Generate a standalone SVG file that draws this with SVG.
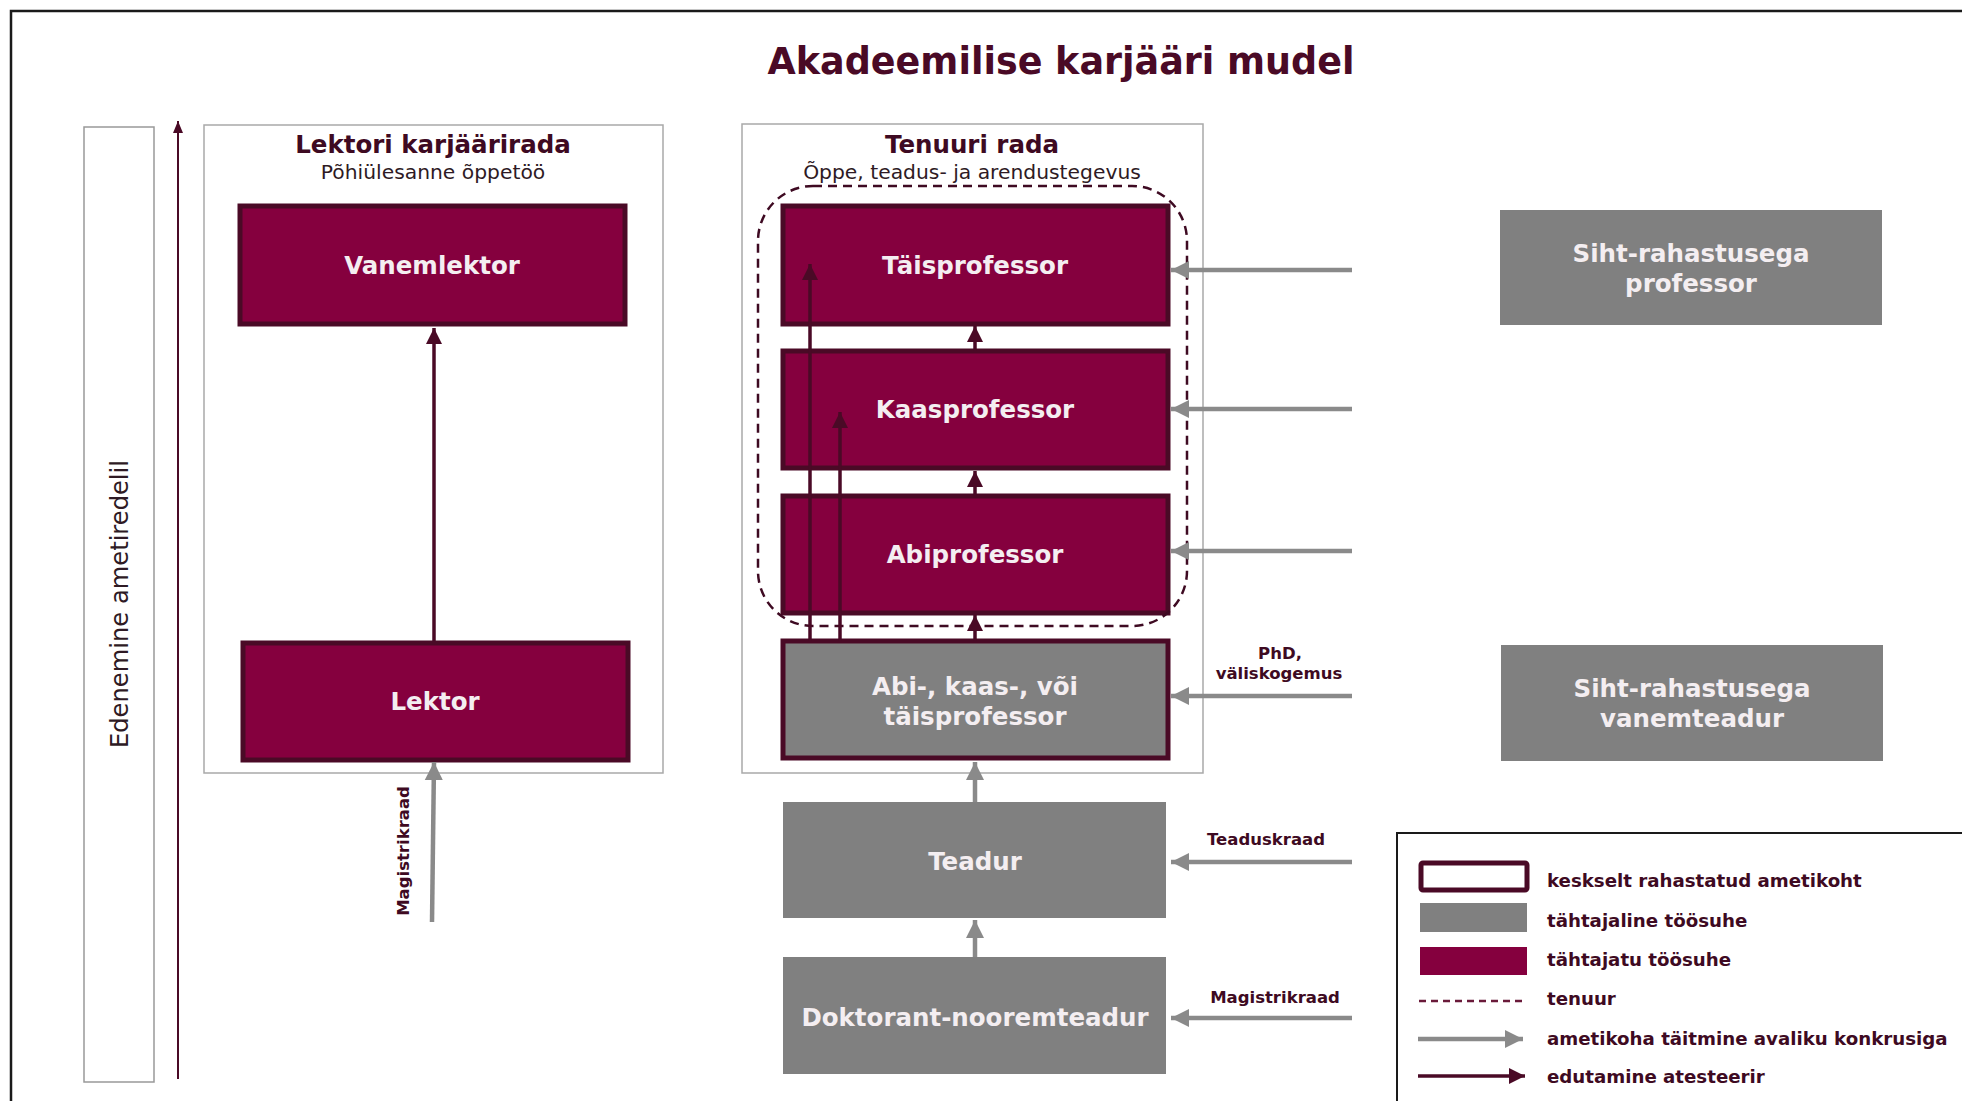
<svg xmlns="http://www.w3.org/2000/svg" width="1962" height="1101" viewBox="0 0 1962 1101">
<defs>
<style>
.t{font-family:"DejaVu Sans","Liberation Sans",sans-serif}
.nb{font-weight:bold;font-size:24.5px;fill:#f4eef1;text-anchor:middle}
.lab{font-weight:bold;font-size:16.5px;fill:#3e0a22;text-anchor:middle}
.hd{font-weight:bold;font-size:24.5px;fill:#3e0a22;text-anchor:middle}
.sub{font-size:20.3px;fill:#2e1a24;text-anchor:middle}
.lg{font-weight:bold;font-size:18.2px;fill:#3e0a22}
.mar{fill:#85003e;stroke:#4a0a26;stroke-width:5}
.gry{fill:#808080}
.grb{fill:#808080;stroke:#4a0a26;stroke-width:5}
.pane{fill:#fff;stroke:#a9a9a9;stroke-width:1.5}
.am{stroke:#4a0a26;stroke-width:3.5;fill:none}
.ag{stroke:#8a8a8a;stroke-width:4.5;fill:none}
</style>
<marker id="hm" markerUnits="userSpaceOnUse" markerWidth="20" markerHeight="20" viewBox="0 0 20 20" refX="18" refY="10" orient="auto">
<path d="M2,2 L18,10 L2,18 Z" fill="#4a0a26"/>
</marker>
<marker id="hm2" markerUnits="userSpaceOnUse" markerWidth="14" markerHeight="14" viewBox="0 0 14 14" refX="13" refY="7" orient="auto">
<path d="M1,2 L13,7 L1,12 Z" fill="#4a0a26"/>
</marker>
<marker id="hg" markerUnits="userSpaceOnUse" markerWidth="22" markerHeight="22" viewBox="0 0 22 22" refX="20" refY="11" orient="auto">
<path d="M2,2 L20,11 L2,20 Z" fill="#8a8a8a"/>
</marker>
</defs>
<rect width="1962" height="1101" fill="#fff"/>
<rect x="11" y="11" width="1990" height="1120" fill="none" stroke="#1a1a1a" stroke-width="2.5"/>
<text class="t" x="1061" y="74" text-anchor="middle" font-weight="bold" font-size="36.5" fill="#4a0a26">Akadeemilise karjääri mudel</text>

<g id="ladder">
<rect x="84" y="127" width="70" height="955" fill="#fff" stroke="#999" stroke-width="1.5"/>
<text class="t" transform="translate(128,604) rotate(-90)" text-anchor="middle" font-size="24.2" fill="#2e1a24">Edenemine ametiredelil</text>
</g>

<g id="lektori-rada">
<rect class="pane" x="204" y="125" width="459" height="648"/>
<text class="t hd" x="433" y="153">Lektori karjäärirada</text>
<text class="t sub" x="433" y="179">Põhiülesanne õppetöö</text>
</g>

<g id="tenuuri-rada">
<rect class="pane" x="742" y="124" width="461" height="649"/>
<text class="t hd" x="972" y="153">Tenuuri rada</text>
<text class="t sub" x="972" y="179">Õppe, teadus- ja arendustegevus</text>
</g>

<g id="vanemlektor"><rect class="mar" x="240" y="206" width="385" height="118"/><text class="t nb" x="432" y="274">Vanemlektor</text></g>
<g id="lektor"><rect class="mar" x="243" y="643" width="385" height="117"/><text class="t nb" x="435" y="710">Lektor</text></g>
<g id="taisprofessor"><rect class="mar" x="783" y="206" width="385" height="118"/><text class="t nb" x="975" y="274">Täisprofessor</text></g>
<g id="kaasprofessor"><rect class="mar" x="783" y="351" width="385" height="117"/><text class="t nb" x="975" y="418">Kaasprofessor</text></g>
<g id="abiprofessor"><rect class="mar" x="783" y="496" width="385" height="117"/><text class="t nb" x="975" y="563">Abiprofessor</text></g>
<g id="abi-kaas-tais"><rect class="grb" x="783" y="641" width="385" height="117"/><text class="t nb" x="975" y="695">Abi-, kaas-, või</text><text class="t nb" x="975" y="725">täisprofessor</text></g>
<g id="teadur"><rect class="gry" x="783" y="802" width="383" height="116"/><text class="t nb" x="975" y="870">Teadur</text></g>
<g id="doktorant"><rect class="gry" x="783" y="957" width="383" height="117"/><text class="t nb" x="975" y="1026">Doktorant-nooremteadur</text></g>
<g id="siht-professor"><rect class="gry" x="1500" y="210" width="382" height="115"/><text class="t nb" x="1691" y="262">Siht-rahastusega</text><text class="t nb" x="1691" y="292">professor</text></g>
<g id="siht-vanemteadur"><rect class="gry" x="1501" y="645" width="382" height="116"/><text class="t nb" x="1692" y="697">Siht-rahastusega</text><text class="t nb" x="1692" y="727">vanemteadur</text></g>

<g id="tenuur">
<rect x="758" y="186" width="429" height="440" rx="55" ry="55" fill="none" stroke="#3e0a22" stroke-width="2.5" stroke-dasharray="9,6"/>
</g>

<g id="connectors">
<line x1="178" y1="1079" x2="178" y2="121" stroke="#4a0a26" stroke-width="2" marker-end="url(#hm2)"/>
<line class="am" x1="434" y1="641" x2="434" y2="328" marker-end="url(#hm)"/>
<line class="ag" x1="432" y1="922" x2="434" y2="762" marker-end="url(#hg)"/>
<line class="am" x1="975" y1="351" x2="975" y2="326" marker-end="url(#hm)"/>
<line class="am" x1="975" y1="496" x2="975" y2="471" marker-end="url(#hm)"/>
<line class="am" x1="975" y1="641" x2="975" y2="615" marker-end="url(#hm)"/>
<line class="am" x1="810" y1="641" x2="810" y2="264" marker-end="url(#hm)"/>
<line class="am" x1="840" y1="641" x2="840" y2="412" marker-end="url(#hm)"/>
<line class="ag" x1="975" y1="802" x2="975" y2="762" marker-end="url(#hg)"/>
<line class="ag" x1="975" y1="957" x2="975" y2="920" marker-end="url(#hg)"/>
<line class="ag" x1="1352" y1="270" x2="1171" y2="270" marker-end="url(#hg)"/>
<line class="ag" x1="1352" y1="409" x2="1171" y2="409" marker-end="url(#hg)"/>
<line class="ag" x1="1352" y1="551" x2="1171" y2="551" marker-end="url(#hg)"/>
<line class="ag" x1="1352" y1="696" x2="1171" y2="696" marker-end="url(#hg)"/>
<line class="ag" x1="1352" y1="862" x2="1171" y2="862" marker-end="url(#hg)"/>
<line class="ag" x1="1352" y1="1018" x2="1171" y2="1018" marker-end="url(#hg)"/>
<text class="t lab" transform="translate(409,851) rotate(-90)">Magistrikraad</text>
<text class="t lab" x="1280" y="659">PhD,</text>
<text class="t lab" x="1279" y="679">väliskogemus</text>
<text class="t lab" x="1266" y="845">Teaduskraad</text>
<text class="t lab" x="1275" y="1003">Magistrikraad</text>
</g>

<g id="legend">
<rect x="1397" y="833" width="600" height="300" fill="#fff" stroke="#1a1a1a" stroke-width="2"/>
<rect x="1421" y="863" width="106" height="27" rx="2" fill="#fff" stroke="#4a0a26" stroke-width="5"/>
<rect x="1420" y="903" width="107" height="29" fill="#808080"/>
<rect x="1420" y="947" width="107" height="28" fill="#85003e"/>
<line x1="1419" y1="1001" x2="1524" y2="1001" stroke="#6a1a3a" stroke-width="2.5" stroke-dasharray="7,5"/>
<line class="ag" x1="1418" y1="1039" x2="1523" y2="1039" marker-end="url(#hg)"/>
<line class="am" x1="1418" y1="1076" x2="1525" y2="1076" stroke-width="4" marker-end="url(#hm)"/>
<text class="t lg" x="1547" y="887">keskselt rahastatud ametikoht</text>
<text class="t lg" x="1547" y="927">tähtajaline töösuhe</text>
<text class="t lg" x="1547" y="966">tähtajatu töösuhe</text>
<text class="t lg" x="1547" y="1005">tenuur</text>
<text class="t lg" x="1547" y="1045">ametikoha täitmine avaliku konkrusiga</text>
<text class="t lg" x="1547" y="1083">edutamine atesteerir</text>
</g>
</svg>
